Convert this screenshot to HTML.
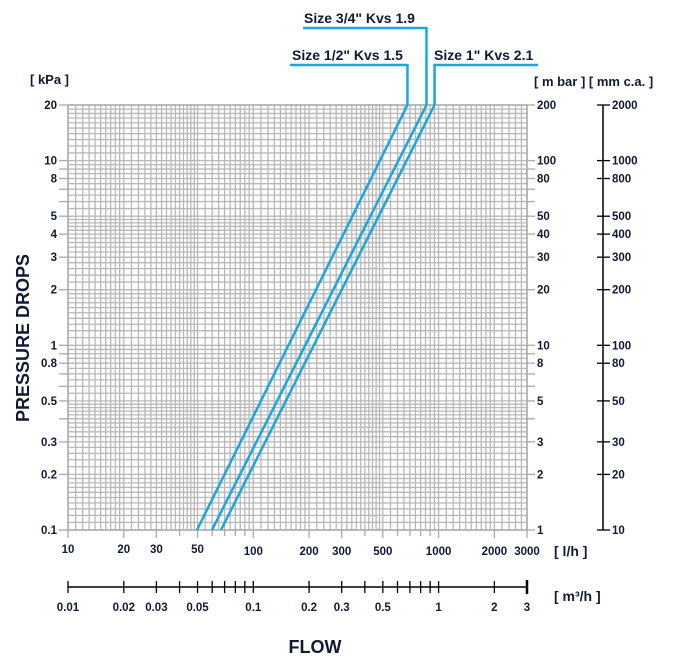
<!DOCTYPE html>
<html><head><meta charset="utf-8"><style>
body{margin:0;background:#fff;}
svg{display:block;font-family:"Liberation Sans",Arial,sans-serif;font-weight:bold;}
</style></head><body>
<svg id="s" width="692" height="663" xmlns="http://www.w3.org/2000/svg"></svg>
<script>
const s=document.getElementById('s');
let h='';
const X0=68,DX=185.3,Y0=105,DY=184.7;
const fx=q=>X0+Math.log10(q/10)*DX;
const fy=p=>Y0+Math.log10(20/p)*DY;
function sub(){let a=[];for(let v=1;v<2-1e-9;v+=0.1)a.push(v);for(let v=2;v<5-1e-9;v+=0.2)a.push(v);for(let v=5;v<10-1e-9;v+=0.5)a.push(v);return a;}
const S=sub();
for(const d of [10,100,1000]){for(const m of S){const q=d*m;if(q>3000.01)continue;const x=fx(q);h+=`<line x1="${x}" y1="${Y0}" x2="${x}" y2="530" stroke="#b8b8b8" stroke-width="1.3"/>`;}}
for(const d of [0.1,1,10]){for(const m of S){const p=d*m;if(p>20.01)continue;const y=fy(p);h+=`<line x1="${X0}" y1="${y}" x2="527" y2="${y}" stroke="#b8b8b8" stroke-width="1.3"/>`;}}
h+=`<line x1="${X0}" y1="${Y0}" x2="527" y2="${Y0}" stroke="#aaa" stroke-width="1.5"/><line x1="${X0}" y1="530" x2="527" y2="530" stroke="#aaa" stroke-width="1.5"/><line x1="${X0}" y1="${Y0}" x2="${X0}" y2="530" stroke="#aaa" stroke-width="1.5"/><line x1="527" y1="${Y0}" x2="527" y2="530" stroke="#aaa" stroke-width="1.5"/>`;
for(const d of [10,100,1000])for(let m=1;m<10;m++){const q=d*m;if(q>3000.01)continue;const x=fx(q);h+=`<line x1="${x}" y1="530" x2="${x}" y2="${m==1||m==2||m==3||m==5?538:536}" stroke="#aaa" stroke-width="1.3"/>`;}
const tk=(x,y,t,a)=>`<text x="${x}" y="${y+4}" font-size="11.5" fill="#111a33" text-anchor="${a}">${t}</text>`;
const L=[[20,'20'],[10,'10'],[8,'8'],[5,'5'],[4,'4'],[3,'3'],[2,'2'],[1,'1'],[0.8,'0.8'],[0.5,'0.5'],[0.3,'0.3'],[0.2,'0.2'],[0.1,'0.1']];
for(const d of [0.1,1,10])for(let m=1;m<10;m++){const p=d*m;if(p>20.01)continue;const y=fy(p);h+=`<line x1="59" y1="${y}" x2="${X0}" y2="${y}" stroke="#aaa" stroke-width="1.3"/><line x1="527" y1="${y}" x2="535" y2="${y}" stroke="#aaa" stroke-width="1.3"/>`;}
for(const [p,t] of L){const y=fy(p);h+=tk(57,y,t,'end');h+=tk(537,y,String(Math.round(p*10)),'start');
h+=`<line x1="597" y1="${y}" x2="610" y2="${y}" stroke="#000" stroke-width="1.3"/>`;h+=tk(612,y,String(Math.round(p*100)),'start');}
h+=`<line x1="603" y1="${Y0}" x2="603" y2="530" stroke="#000" stroke-width="1.5"/>`;
for(const q of [10,20,30,50,100,200,300,500,1000,2000,3000]){h+=`<text x="${fx(q)}" y="${q>=100?555:553}" font-size="11.5" fill="#111a33" text-anchor="middle">${q}</text>`;}
h+=`<line x1="${X0}" y1="587" x2="527" y2="587" stroke="#000" stroke-width="1.5"/>`;
for(const d of [10,100,1000])for(let m=1;m<10;m++){const q=d*m;if(q>3000.01)continue;const x=fx(q);h+=`<line x1="${x}" y1="581" x2="${x}" y2="593" stroke="#000" stroke-width="1.3"/>`;}
h+=`<line x1="527" y1="580" x2="527" y2="594" stroke="#000" stroke-width="2.5"/>`;
for(const [q,t] of [[10,'0.01'],[20,'0.02'],[30,'0.03'],[50,'0.05'],[100,'0.1'],[200,'0.2'],[300,'0.3'],[500,'0.5'],[1000,'1'],[2000,'2'],[3000,'3']]){h+=`<text x="${fx(q)}" y="611" font-size="11.5" fill="#111a33" text-anchor="middle">${t}</text>`;}
const C='#1aa6e0';
const tops=[];
const bots=[197,212,221];
[1.5,1.9,2.1].forEach((kv,i)=>{const q2=kv*Math.sqrt(0.2)*1000;h+=`<line x1="${bots[i]}" y1="530" x2="${fx(q2)+1}" y2="${Y0}" stroke="${C}" stroke-width="2.5"/>`;tops.push(fx(q2)+1);});
h+=`<polyline points="${tops[0]},${Y0} ${tops[0]},65 290,65" fill="none" stroke="${C}" stroke-width="2.5"/>`;
h+=`<polyline points="${tops[1]},${Y0} ${tops[1]},28 303,28" fill="none" stroke="${C}" stroke-width="2.5"/>`;
h+=`<polyline points="${tops[2]},${Y0} ${tops[2]},65 538,65" fill="none" stroke="${C}" stroke-width="2.5"/>`;
h+=`<text x="292" y="60" font-size="14" fill="#111a33">Size 1/2" Kvs 1.5</text>`;
h+=`<text x="304" y="23" font-size="14" fill="#111a33">Size 3/4" Kvs 1.9</text>`;
h+=`<text x="434" y="60" font-size="14" fill="#111a33">Size 1" Kvs 2.1</text>`;
h+=`<text x="30" y="84" font-size="13" fill="#111a33">[ kPa ]</text>`;
h+=`<text x="534" y="86" font-size="13" fill="#111a33">[ m bar ] [ mm c.a. ]</text>`;
h+=`<text x="554" y="556" font-size="14" fill="#111a33">[ l/h ]</text>`;
h+=`<text x="554" y="601" font-size="14" fill="#111a33">[ m³/h ]</text>`;
h+=`<text x="315" y="653" font-size="18" fill="#111a33" text-anchor="middle">FLOW</text>`;
h+=`<text transform="translate(29,338) rotate(-90)" font-size="18" fill="#111a33" text-anchor="middle">PRESSURE DROPS</text>`;
s.innerHTML=h;
</script>
</body></html>
